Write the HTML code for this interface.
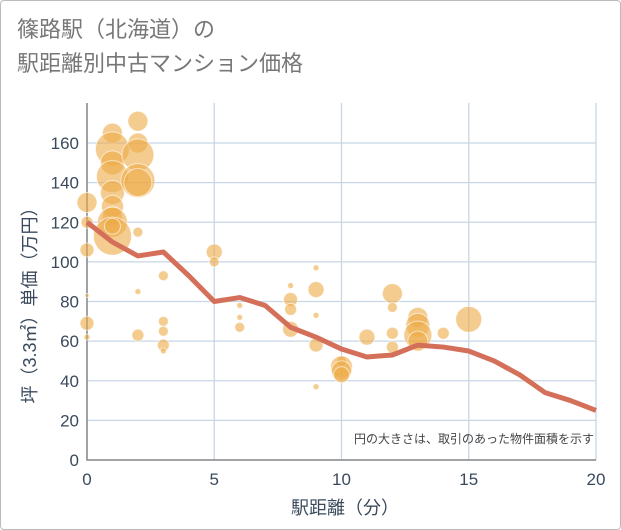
<!DOCTYPE html>
<html><head><meta charset="utf-8"><style>
body{margin:0;background:#fff}
.wrap{position:relative;width:621px;height:530px;box-sizing:border-box;border:1px solid #bbb;border-radius:4px;background:#fff;font-family:"Liberation Sans","Noto Sans CJK JP",sans-serif}
.title{position:absolute;left:16px;top:12px;font-size:22px;line-height:34px;color:#777}
</style></head><body>
<div class="wrap">
<div class="title">篠路駅（北海道）の<br>駅距離別中古マンション価格</div>
<svg id="c" width="621" height="530" style="position:absolute;left:-1px;top:-1px"></svg>
</div>
<script>
const xTicks=[0,5,10,15,20];
const yTicks=[0,20,40,60,80,100,120,140,160];
const lineX=[0,1,2,3,4,5,6,7,8,9,10,11,12,13,14,15,16,17,18,19,20];
const lineY=[120,110,103,105,93,80,82,78,67,62,56,52,53,58,57,55,50,43,34,30,25];
const bubX=[0,0,0,0,0,0, 1,1,1,1,1,1,1,1,1,1, 2,2,2,2,2,2,2,2, 3,3,3,3,3, 5,5, 6,6,6, 8,8,8,8, 9,9,9,9,9, 10,10,10,10, 11, 12,12,12,12, 13,13,13,13, 14, 15];
const bubY=[130,120,106,83,69,62, 165,157,150,143,135,128,123,120,113,118, 171,160,154,141,140,115,85,63, 93,70,65,58,55, 105,100, 78,72,67, 88,81,76,66, 97,86,73,58,37, 50,47,45,43, 62, 84,77,64,57, 72,68,63,60, 64, 71];
const bubR=[10,6,7,2,7,3, 10,17,12,16,12,11,10,15,19,8, 10,10,16,17,14,5,3,6, 5,5,5,6,3, 8,5, 3,3,5, 3,7,6,8, 3,8,3,7,3, 5,11,10,8, 8, 10,5,6,6, 10,12,14,10, 6, 13];
const X0=87,X1=596,Y0=460,Y1=143;
const sx=v=>X0+(X1-X0)*v/20, sy=v=>Y0-(Y0-Y1)*v/160;
const NS='http://www.w3.org/2000/svg', svg=document.getElementById('c');
function mk(t,a,p){const e=document.createElementNS(NS,t);for(const k in a)e.setAttribute(k,a[k]);(p||svg).appendChild(e);return e;}
yTicks.forEach(v=>{const l=mk('line',{x1:X0,x2:X1,y1:sy(v),y2:sy(v),stroke:'#c8d6e6','stroke-width':1.3});


const t=mk('text',{x:X0-8,y:sy(v)+6,'text-anchor':'end','font-size':17,fill:'#3a4a5c'});t.textContent=v;

});
xTicks.forEach(v=>{const l=mk('line',{x1:sx(v),x2:sx(v),y1:Y1-40,y2:Y0,stroke:'#c8d6e6','stroke-width':1.3});


const t=mk('text',{x:sx(v),y:Y0+25,'text-anchor':'middle','font-size':17,fill:'#3a4a5c'});t.textContent=v;

});
const ax=mk('path',{d:`M${X0} ${Y1-40}V${Y0}H${X1}`,stroke:'#888','stroke-width':1.5,fill:'none'});


bubX.forEach((v,i)=>{const c=mk('circle',{cx:sx(v),cy:sy(bubY[i]),r:bubR[i],fill:'rgba(236,170,70,0.6)',stroke:'rgba(255,255,255,0.6)','stroke-width':1});

});
const ln=mk('polyline',{points:lineX.map((v,i)=>sx(v)+','+sy(lineY[i])).join(' '),fill:'none',stroke:'#d4705a','stroke-width':5,'stroke-linejoin':'round'});


const n=mk('text',{x:594,y:443,'text-anchor':'end','font-size':12,fill:'#444'});n.textContent='円の大きさは、取引のあった物件面積を示す';


const xt=mk('text',{x:345,y:514,'text-anchor':'middle','font-size':18,fill:'#3a4a5c'});xt.textContent='駅距離（分）';


const yt=mk('text',{x:0,y:0,'text-anchor':'middle','font-size':18,fill:'#3a4a5c',transform:'translate(36,301) rotate(-90)'});yt.textContent='坪（3.3㎡）単価（万円）';


</script>
</body></html>
